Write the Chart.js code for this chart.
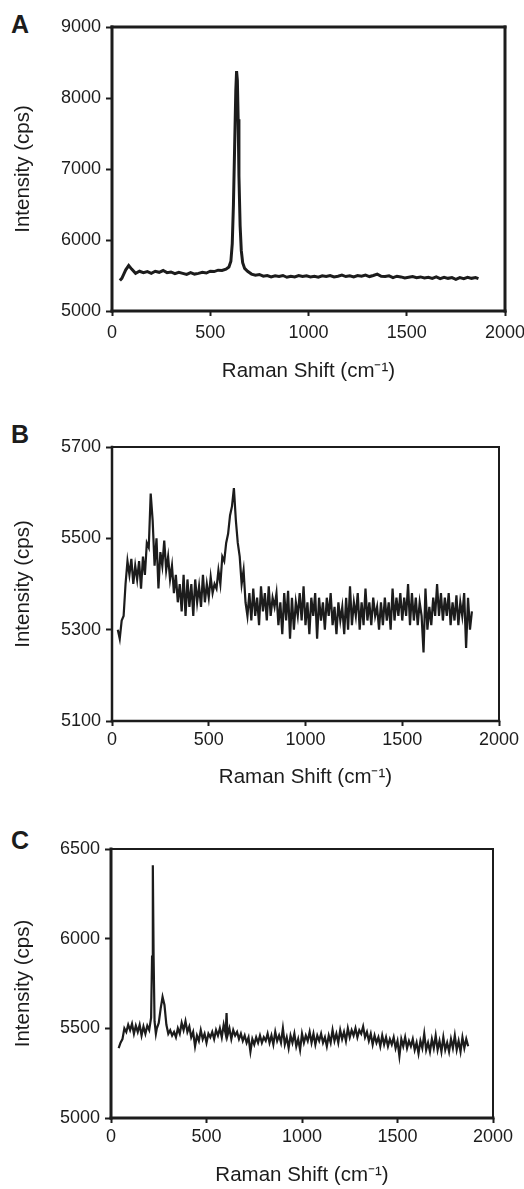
<!DOCTYPE html>
<html>
<head>
<meta charset="utf-8">
<script src="https://cdn.jsdelivr.net/npm/chart.js@4.4.1/dist/chart.umd.min.js"></script>
<style>
  html, body { margin: 0; padding: 0; background: #fff; overflow: hidden; }
  body { width: 524px; height: 1189px; position: relative; font-family: "Liberation Sans", Arial, sans-serif; }
  .panel { position: absolute; left: 0; width: 524px; }
  .letter { position: absolute; left: 11px; font-weight: bold; font-size: 25px; color: #1c1c1c; line-height: 1; }
</style>
</head>
<body>
<div class="letter" style="top:12px">A</div>
<div class="letter" style="top:422px">B</div>
<div class="letter" style="top:828px">C</div>
<div class="panel" style="top:0px;height:390px"><canvas id="chartA" width="524" height="390"></canvas></div>
<div class="panel" style="top:400px;height:400px"><canvas id="chartB" width="524" height="400"></canvas></div>
<div class="panel" style="top:800px;height:389px"><canvas id="chartC" width="524" height="389"></canvas></div>
<script>
// Raman spectra (shift in cm-1, intensity in cps)
const shiftA = [40, 50, 60, 70, 85, 100, 120, 140, 160, 180, 200, 220, 240, 260, 280, 300, 320, 340, 360, 380,
  400, 420, 440, 460, 480, 500, 520, 540, 560, 580, 595, 605, 612, 618, 624, 630, 634, 638, 642, 646,
  652, 658, 665, 675, 690, 710, 730, 750, 770, 790, 810, 830, 850, 870, 890, 910, 930, 950, 970, 990,
  1010, 1030, 1050, 1070, 1090, 1110, 1130, 1150, 1170, 1190, 1210, 1230, 1250, 1270, 1290, 1310, 1330, 1350, 1370, 1390,
  1410, 1430, 1450, 1470, 1490, 1510, 1530, 1550, 1570, 1590, 1610, 1630, 1650, 1670, 1690, 1710, 1730, 1750, 1770, 1790,
  1810, 1830, 1850, 1865];
const intensityA = [5430, 5460, 5520, 5580, 5640, 5590, 5530, 5560, 5540, 5555, 5530, 5560, 5545, 5570, 5540, 5550, 5525, 5545, 5530, 5515,
  5540, 5520, 5530, 5545, 5535, 5560, 5555, 5575, 5570, 5590, 5620, 5700, 5950, 6500, 7300, 8100, 8380, 8250, 7700, 6900,
  6200, 5850, 5680, 5600, 5560, 5520, 5505, 5515, 5490, 5500, 5480, 5495, 5485, 5500, 5475, 5490, 5480, 5500, 5485, 5495,
  5480, 5490, 5475, 5495, 5485, 5500, 5480, 5490, 5505, 5485, 5495, 5480, 5500, 5490, 5505, 5485, 5500, 5520, 5490, 5485,
  5495, 5470, 5490, 5480, 5465, 5475, 5485, 5470, 5480, 5465, 5475, 5460, 5480, 5455, 5475, 5460, 5470, 5445, 5470, 5455,
  5475, 5460, 5470, 5455];

const shiftB = [30, 40, 50, 60, 70, 80, 90,
  100, 110, 120, 130, 140, 150, 160, 170, 180, 190,
  200, 210, 220, 230, 240, 250, 260, 270, 280, 290,
  300, 310, 320, 330, 340, 350, 360, 370, 380, 390,
  400, 410, 420, 430, 440, 450, 460, 470, 480, 490,
  500, 510, 520, 530, 540, 550, 560, 570, 580, 590,
  600, 610, 620, 630, 640, 650, 660, 670, 680, 690,
  700, 710, 720, 730, 740, 750, 760, 770, 780, 790,
  800, 810, 820, 830, 840, 850, 860, 870, 880, 890,
  900, 910, 920, 930, 940, 950, 960, 970, 980, 990,
  1000, 1010, 1020, 1030, 1040, 1050, 1060, 1070, 1080, 1090,
  1100, 1110, 1120, 1130, 1140, 1150, 1160, 1170, 1180, 1190,
  1200, 1210, 1220, 1230, 1240, 1250, 1260, 1270, 1280, 1290,
  1300, 1310, 1320, 1330, 1340, 1350, 1360, 1370, 1380, 1390,
  1400, 1410, 1420, 1430, 1440, 1450, 1460, 1470, 1480, 1490,
  1500, 1510, 1520, 1530, 1540, 1550, 1560, 1570, 1580, 1590,
  1600, 1610, 1620, 1630, 1640, 1650, 1660, 1670, 1680, 1690,
  1700, 1710, 1720, 1730, 1740, 1750, 1760, 1770, 1780, 1790,
  1800, 1810, 1820, 1830, 1840, 1850, 1860];
const intensityB = [5300, 5280, 5320, 5330, 5400, 5450, 5420,
  5455, 5400, 5440, 5410, 5450, 5390, 5460, 5420, 5490, 5480,
  5598, 5540, 5440, 5500, 5390, 5470, 5440, 5495, 5430, 5460,
  5410, 5440, 5380, 5420, 5360, 5400, 5340, 5420, 5330, 5410,
  5350, 5400, 5330, 5410, 5360, 5395, 5350, 5420, 5360, 5400,
  5370, 5415, 5380, 5400, 5390, 5430, 5400, 5460, 5450, 5490,
  5510, 5550, 5570, 5610, 5540, 5490, 5460, 5400, 5430, 5360,
  5330, 5380, 5320, 5390, 5330, 5370, 5310, 5395, 5340, 5380,
  5320, 5395, 5330, 5370, 5350, 5380, 5310, 5360, 5290, 5380,
  5320, 5385, 5280, 5370, 5300, 5360, 5330, 5380, 5320, 5395,
  5310, 5360, 5290, 5370, 5330, 5380, 5280, 5370, 5320, 5360,
  5300, 5370, 5330, 5380, 5310, 5350, 5290, 5360, 5320, 5350,
  5290, 5370, 5300, 5395, 5310, 5360, 5330, 5380, 5300, 5360,
  5310, 5390, 5320, 5360, 5310, 5370, 5330, 5350, 5300, 5360,
  5310, 5370, 5320, 5360, 5300, 5390, 5320, 5370, 5330, 5380,
  5320, 5370, 5330, 5400, 5310, 5380, 5320, 5370, 5310, 5360,
  5330, 5250, 5390, 5300, 5350, 5310, 5370, 5330, 5400, 5330,
  5380, 5320, 5370, 5330, 5380, 5310, 5360, 5320, 5375, 5310,
  5360, 5330, 5380, 5260, 5370, 5300, 5340];

const shiftC = [40, 50, 60, 70, 80, 90,
  100, 110, 120, 130, 140, 150, 160, 170, 180, 190,
  200, 210, 215, 219, 223, 228, 235, 240, 250, 260, 270, 280, 290,
  300, 310, 320, 330, 340, 350, 360, 370, 380, 390,
  400, 410, 420, 430, 440, 450, 460, 470, 480, 490,
  500, 510, 520, 530, 540, 550, 560, 570, 580, 590,
  600, 605, 610, 620, 630, 640, 650, 660, 670, 680, 690,
  700, 710, 720, 730, 740, 750, 760, 770, 780, 790,
  800, 810, 820, 830, 840, 850, 860, 870, 880, 890,
  900, 910, 920, 930, 940, 950, 960, 970, 980, 990,
  1000, 1010, 1020, 1030, 1040, 1050, 1060, 1070, 1080, 1090,
  1100, 1110, 1120, 1130, 1140, 1150, 1160, 1170, 1180, 1190,
  1200, 1210, 1220, 1230, 1240, 1250, 1260, 1270, 1280, 1290,
  1300, 1310, 1320, 1330, 1340, 1350, 1360, 1370, 1380, 1390,
  1400, 1410, 1420, 1430, 1440, 1450, 1460, 1470, 1480, 1490,
  1500, 1510, 1520, 1530, 1540, 1550, 1560, 1570, 1580, 1590,
  1600, 1610, 1620, 1630, 1640, 1650, 1660, 1670, 1680, 1690,
  1700, 1710, 1720, 1730, 1740, 1750, 1760, 1770, 1780, 1790,
  1800, 1810, 1820, 1830, 1840, 1850, 1860, 1870];
const intensityC = [5390, 5420, 5440, 5500, 5480, 5520,
  5490, 5525, 5470, 5515, 5480, 5520, 5460, 5510, 5470, 5515,
  5490, 5560, 5900, 6410, 5900, 5540, 5470, 5500, 5530, 5610, 5675, 5630, 5520,
  5470, 5490, 5460, 5480, 5450, 5500, 5470, 5530, 5490, 5540,
  5480, 5510, 5450, 5480, 5400, 5460, 5430, 5490, 5440, 5470,
  5420, 5470, 5450, 5480, 5440, 5490, 5460, 5500, 5450, 5520,
  5470, 5585, 5460, 5500, 5440, 5490, 5460, 5480, 5440, 5470, 5430,
  5460, 5420, 5450, 5370, 5440, 5410, 5450, 5420, 5460, 5420,
  5450, 5430, 5470, 5420, 5460, 5410, 5480, 5430, 5460, 5420,
  5500, 5410, 5450, 5390, 5460, 5420, 5470, 5400, 5440, 5380,
  5470, 5420, 5460, 5430, 5480, 5420, 5470, 5410, 5460, 5430,
  5470, 5420, 5450, 5400, 5460, 5420, 5490, 5430, 5470, 5420,
  5490, 5440, 5480, 5430, 5500, 5450, 5490, 5460, 5500, 5450,
  5490, 5470, 5510, 5450, 5480, 5430, 5470, 5410, 5460, 5420,
  5450, 5400, 5460, 5410, 5450, 5400, 5440, 5410, 5450, 5390,
  5430, 5345, 5440, 5400, 5450, 5390, 5430, 5400, 5440, 5380,
  5420, 5360, 5430, 5390, 5470, 5380, 5420, 5370, 5440, 5390,
  5460, 5380, 5430, 5370, 5450, 5380, 5420, 5370, 5440, 5390,
  5460, 5380, 5430, 5370, 5450, 5390, 5440, 5400];

const xTicks = [0, 500, 1000, 1500, 2000];
const yTicksA = [5000, 6000, 7000, 8000, 9000];
const yTicksB = [5100, 5300, 5500, 5700];
const yTicksC = [5000, 5500, 6000, 6500];

const FONT = '"Liberation Sans", Arial, sans-serif';
const INK = '#1c1c1c';

// box round the plot area, each side with its own width
const framePlugin = {
  id: 'frame',
  afterDraw(chart, args, opts) {
    const { ctx, chartArea: a } = chart;
    ctx.save();
    ctx.strokeStyle = INK;
    ctx.lineCap = 'square';
    const side = (w, x1, y1, x2, y2) => {
      ctx.lineWidth = w;
      ctx.beginPath();
      ctx.moveTo(x1, y1);
      ctx.lineTo(x2, y2);
      ctx.stroke();
    };
    side(opts.top, a.left, a.top, a.right, a.top);
    side(opts.right, a.right, a.top, a.right, a.bottom);
    side(opts.left, a.left, a.top, a.left, a.bottom);
    side(opts.bottom, a.left, a.bottom, a.right, a.bottom);
    ctx.restore();
  }
};

function makeChart(id, shifts, values, yTicks, p) {
  const points = shifts.map((s, i) => ({ x: s, y: values[i] }));
  return new Chart(document.getElementById(id), {
    type: 'line',
    data: {
      datasets: [{
        data: points,
        borderColor: INK,
        borderWidth: p.lineWidth,
        pointRadius: 0,
        tension: 0,
        fill: false
      }]
    },
    options: {
      responsive: false,
      animation: false,
      layout: { padding: { top: p.top, right: p.right, left: 0, bottom: 0 } },
      plugins: {
        legend: { display: false },
        tooltip: { enabled: false },
        frame: p.frame
      },
      scales: {
        x: {
          type: 'linear',
          min: 0,
          max: 2000,
          afterBuildTicks: s => { s.ticks = xTicks.map(v => ({ value: v })); },
          afterFit: s => {
            s.height = p.xHeight;
            // plot edges come from the layout padding only
            s.paddingLeft = 0;
            s.paddingRight = 0;
          },
          border: { display: false },
          grid: { drawOnChartArea: false, drawTicks: true, tickLength: 5, tickWidth: 2, tickColor: INK },
          ticks: { color: INK, padding: p.xPad, font: { family: FONT, size: 18 }, callback: v => v },
          title: {
            display: true,
            text: 'Raman Shift (cm⁻¹)',
            color: INK,
            font: { family: FONT, size: 20.5 },
            padding: { top: 0, bottom: p.titlePad }
          }
        },
        y: {
          min: yTicks[0],
          max: yTicks[yTicks.length - 1],
          afterBuildTicks: s => { s.ticks = yTicks.map(v => ({ value: v })); },
          afterFit: s => { s.width = p.left; },
          border: { display: false },
          grid: { drawOnChartArea: false, drawTicks: true, tickLength: 6, tickWidth: 2, tickColor: INK },
          ticks: { color: INK, padding: 5, font: { family: FONT, size: 18 }, callback: v => v },
          title: {
            display: true,
            text: 'Intensity (cps)',
            color: INK,
            font: { family: FONT, size: 20.5 },
            padding: { top: 11, bottom: 0 }
          }
        }
      }
    },
    plugins: [framePlugin]
  });
}

makeChart('chartA', shiftA, intensityA, yTicksA, {
  top: 27, right: 19, left: 112, xHeight: 79, xPad: 6, titlePad: 6, lineWidth: 3,
  frame: { top: 3, right: 3, left: 3, bottom: 3 }
});
makeChart('chartB', shiftB, intensityB, yTicksB, {
  top: 47, right: 25, left: 112, xHeight: 79, xPad: 3, titlePad: 10, lineWidth: 2.2,
  frame: { top: 2, right: 2, left: 2.5, bottom: 2.5 }
});
makeChart('chartC', shiftC, intensityC, yTicksC, {
  top: 49, right: 31, left: 111, xHeight: 71, xPad: 3, titlePad: 1, lineWidth: 2.2,
  frame: { top: 2, right: 2, left: 3, bottom: 3 }
});
</script>
</body>
</html>
